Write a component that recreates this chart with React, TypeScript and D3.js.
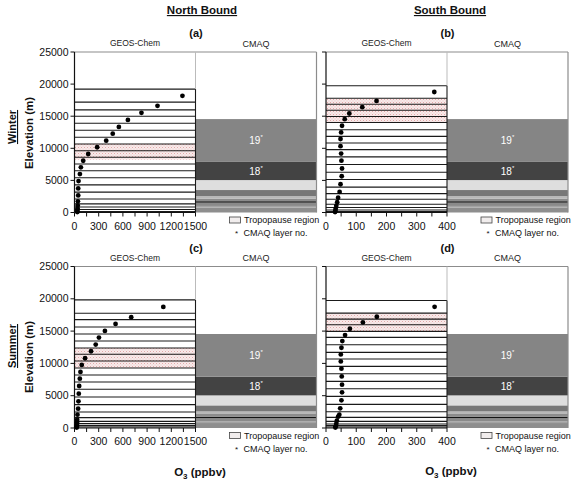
import React from "react";
import * as d3 from "d3";

// ---------- data (elevations in m, ozone in ppbv) ----------
const yTicks = [0, 5000, 10000, 15000, 20000, 25000];
const xTicksNorth = [0, 300, 600, 900, 1200, 1500];
const xTicksSouth = [0, 100, 200, 300, 400];

// (a) Winter, North Bound
const wnEdges = [0, 130, 470, 850, 1350, 2100, 3180, 4310, 5410, 6500, 7550, 8600, 9630, 10670, 11720, 12810, 13910, 15000, 15990, 17190, 19220];
const wnAlt = [65, 300, 660, 1100, 1740, 2660, 3750, 4890, 5980, 7030, 8060, 9110, 10160, 11190, 12280, 13330, 14420, 15520, 16610, 18170];
const wnO3 = [35, 36, 38, 40, 42, 46, 46, 50, 67, 79, 108, 170, 281, 393, 474, 550, 662, 830, 1029, 1338];
const wnTropo = [8250, 10700];

// (b) Winter, South Bound
const wsEdges = [0, 150, 400, 775, 1285, 2060, 2940, 3960, 5150, 6280, 7470, 8660, 9790, 10830, 11860, 12890, 14030, 14955, 15935, 16865, 17790, 19750];
const wsAlt = [80, 280, 600, 1040, 1600, 2300, 3200, 4400, 5650, 6850, 8080, 9180, 10330, 11450, 12480, 13510, 14540, 15420, 16400, 17380, 18770];
const wsO3 = [30, 31, 32, 34, 37, 40, 45, 48, 52, 53, 51, 50, 48, 48, 50, 53, 62, 77, 120, 167, 358];
const wsTropo = [14030, 17790];

// (c) Summer, North Bound
const snEdges = [0, 155, 361, 671, 1033, 1600, 2478, 3614, 4802, 5989, 7125, 8209, 9293, 10378, 11410, 12391, 13475, 14560, 15644, 16780, 17761, 19826];
const snAlt = [80, 260, 520, 850, 1291, 2065, 2995, 4130, 5318, 6505, 7641, 8674, 9759, 10797, 11881, 12919, 14003, 15026, 16110, 17147, 18743];
const snO3 = [28, 29, 30, 31, 33, 37, 45, 49, 53, 58, 66, 74, 90, 131, 205, 263, 303, 377, 509, 703, 1101];
const snTropo = [9293, 12391];

// (d) Summer, South Bound
const ssEdges = [0, 155, 361, 619, 1031, 1650, 2526, 3660, 4897, 6083, 7217, 8403, 9537, 10671, 11702, 12888, 14022, 14950, 15981, 16857, 17785, 19744];
const ssAlt = [80, 260, 670, 1134, 1750, 2062, 3041, 4279, 5516, 6702, 7990, 9176, 10310, 11393, 12424, 13455, 14383, 15362, 16342, 17218, 18764];
const ssO3 = [31, 32, 34, 36, 40, 44, 47, 51, 53, 53, 52, 51, 49, 49, 51, 54, 63, 79, 122, 168, 359];
const ssTropo = [14950, 17785];

// CMAQ layers (shared), bottom-up boundaries
const cmaqEdges = [0, 770, 1020, 1530, 1760, 2170, 2570, 3500, 5050, 7950, 14550];
const cmaqShades = ["#8e8e8e", "#a3a3a3", "#8a8a8a", "#141414", "#8c8c8c", "#b8b8b8", "#777777", "#dedede", "#434343", "#858585"];
const cmaqLabels = ["", "", "", "", "", "", "", "", "18", "19"];

const FONT = "'Liberation Sans', Arial, sans-serif";

type PanelProps = {
  letter: string;
  x0: number;
  yTop: number;
  yBot: number;
  xMax: number;
  xTicks: number[];
  minorStep: number;
  edges: number[];
  alt: number[];
  o3: number[];
  tropo: number[];
  showYLabels: boolean;
};

const GW = 121;

function Panel(p: PanelProps) {
  const y = d3.scaleLinear().domain([0, 25000]).range([p.yBot, p.yTop]);
  const x = d3.scaleLinear().domain([0, p.xMax]).range([p.x0, p.x0 + GW]);
  const xDiv = p.x0 + GW;
  const xR = xDiv + GW;
  const minor = d3.range(0, p.xMax + 0.001, p.minorStep);
  const boxTop = p.edges[p.edges.length - 1];
  return (
    <g>
      <rect x={p.x0} y={p.yTop} width={GW * 2} height={p.yBot - p.yTop} fill="#fff" />
      {/* CMAQ layers */}
      {cmaqShades.map((c, i) => (
        <rect key={"c" + i} x={xDiv} width={GW} y={y(cmaqEdges[i + 1])} height={y(cmaqEdges[i]) - y(cmaqEdges[i + 1])} fill={c} />
      ))}
      {cmaqLabels.map((l, i) =>
        l ? (
          <text key={"l" + i} x={xDiv + GW / 2} y={(y(cmaqEdges[i]) + y(cmaqEdges[i + 1])) / 2 + 4} fill="#fff" fontSize={10} fontFamily={FONT} textAnchor="middle">
            {l}
            <tspan fontSize={6} dy={-5}>*</tspan>
          </text>
        ) : null
      )}
      {/* Tropopause region */}
      <rect x={p.x0} width={GW} y={y(p.tropo[1])} height={y(p.tropo[0]) - y(p.tropo[1])} fill="url(#tropoPat)" />
      {/* GEOS-Chem layers */}
      {p.edges.slice(1).map((e, i) => (
        <line key={"e" + i} x1={p.x0} x2={xDiv} y1={y(e)} y2={y(e)} stroke="#1a1a1a" strokeWidth={1.1} />
      ))}
      {/* frame */}
      <line x1={p.x0} x2={xR} y1={p.yTop} y2={p.yTop} stroke="#8c8c8c" strokeWidth={1.2} />
      <line x1={xR} x2={xR} y1={p.yTop} y2={p.yBot} stroke="#8c8c8c" strokeWidth={1.2} />
      <line x1={xDiv} x2={xDiv} y1={p.yTop} y2={y(boxTop)} stroke="#bbbbbb" strokeWidth={1} />
      <line x1={xDiv} x2={xDiv} y1={y(boxTop)} y2={p.yBot} stroke="#1a1a1a" strokeWidth={1.1} />
      {/* axes */}
      <line x1={p.x0} x2={p.x0} y1={p.yTop} y2={p.yBot} stroke="#111" strokeWidth={1.2} />
      <line x1={p.x0} x2={xDiv} y1={p.yBot} y2={p.yBot} stroke="#111" strokeWidth={1.2} />
      {yTicks.map((t) => (
        <g key={"yt" + t}>
          <line x1={p.x0 - 4} x2={p.x0} y1={y(t)} y2={y(t)} stroke="#111" />
          {p.showYLabels && (
            <text x={p.x0 - 6} y={y(t) + 3.6} fontSize={10.5} fontFamily={FONT} textAnchor="end" fill="#111">
              {t}
            </text>
          )}
        </g>
      ))}
      {minor.map((t) => (
        <line key={"xm" + t} x1={x(t)} x2={x(t)} y1={p.yBot} y2={p.yBot + 4} stroke="#111" />
      ))}
      {p.xTicks.map((t) => (
        <text key={"xt" + t} x={x(t)} y={p.yBot + 17} fontSize={10.5} fontFamily={FONT} textAnchor="middle" fill="#111">
          {t}
        </text>
      ))}
      {/* O3 profile */}
      {p.alt.map((a, i) => (
        <circle key={"d" + i} cx={x(p.o3[i])} cy={y(a)} r={2.4} fill="#000" />
      ))}
      {/* headers */}
      <text x={p.x0 + GW / 2} y={p.yTop - 6} fontSize={8.5} fontFamily={FONT} textAnchor="middle" fill="#222">GEOS-Chem</text>
      <text x={xDiv + GW / 2} y={p.yTop - 5.5} fontSize={9} fontFamily={FONT} textAnchor="middle" fill="#222">CMAQ</text>
      <text x={xDiv + 0.5} y={p.yTop - 15} fontSize={11} fontWeight="bold" fontFamily={FONT} textAnchor="middle" fill="#111">({p.letter})</text>
      {/* legend */}
      <rect x={xDiv + 34} y={p.yBot + 4.5} width={11} height={6} fill="#f1eded" stroke="#444" strokeWidth={0.8} />
      <text x={xDiv + 48.5} y={p.yBot + 10.8} fontSize={9} fontFamily={FONT} fill="#111">Tropopause region</text>
      <text x={xDiv + 41} y={p.yBot + 23.5} fontSize={8} fontFamily={FONT} fill="#111" textAnchor="middle">*</text>
      <text x={xDiv + 48} y={p.yBot + 23.5} fontSize={9} fontFamily={FONT} fill="#111">CMAQ layer no.</text>
    </g>
  );
}

export default function App() {
  const rows = [
    { yTop: 52, yBot: 212.5 },
    { yTop: 266.5, yBot: 428 },
  ];
  const cols = [74.5, 326];
  return (
    <svg width={574} height={484} style={{ position: "absolute", left: 0, top: 0 }}>
      <defs>
        <pattern id="tropoPat" width="3" height="3" patternUnits="userSpaceOnUse">
          <rect width="3" height="3" fill="#f8ebeb" />
          <rect x="0" y="0" width="1" height="1" fill="#e3a9a9" />
          <rect x="1.5" y="1.5" width="1" height="1" fill="#ecc3c3" />
        </pattern>
      </defs>
      <rect width={574} height={484} fill="#fff" />
      <text x={202} y={14} fontSize={11.5} fontWeight="bold" fontFamily={FONT} textAnchor="middle" textDecoration="underline" fill="#111">North Bound</text>
      <text x={450} y={14} fontSize={11.5} fontWeight="bold" fontFamily={FONT} textAnchor="middle" textDecoration="underline" fill="#111">South Bound</text>

      <Panel letter="a" x0={cols[0]} {...rows[0]} xMax={1500} xTicks={xTicksNorth} minorStep={150} edges={wnEdges} alt={wnAlt} o3={wnO3} tropo={wnTropo} showYLabels={true} />
      <Panel letter="b" x0={cols[1]} {...rows[0]} xMax={400} xTicks={xTicksSouth} minorStep={50} edges={wsEdges} alt={wsAlt} o3={wsO3} tropo={wsTropo} showYLabels={false} />
      <Panel letter="c" x0={cols[0]} {...rows[1]} xMax={1500} xTicks={xTicksNorth} minorStep={150} edges={snEdges} alt={snAlt} o3={snO3} tropo={snTropo} showYLabels={true} />
      <Panel letter="d" x0={cols[1]} {...rows[1]} xMax={400} xTicks={xTicksSouth} minorStep={50} edges={ssEdges} alt={ssAlt} o3={ssO3} tropo={ssTropo} showYLabels={false} />

      <text transform="translate(16,127) rotate(-90)" fontSize={11} fontWeight="bold" fontFamily={FONT} textAnchor="middle" textDecoration="underline" fill="#111">Winter</text>
      <text transform="translate(33,133) rotate(-90)" fontSize={11.5} fontWeight="bold" fontFamily={FONT} textAnchor="middle" fill="#111">Elevation (m)</text>
      <text transform="translate(16,346) rotate(-90)" fontSize={11} fontWeight="bold" fontFamily={FONT} textAnchor="middle" textDecoration="underline" fill="#111">Summer</text>
      <text transform="translate(33,357) rotate(-90)" fontSize={11.5} fontWeight="bold" fontFamily={FONT} textAnchor="middle" fill="#111">Elevation (m)</text>

      <text x={200} y={476} fontSize={11.5} fontWeight="bold" fontFamily={FONT} textAnchor="middle" fill="#111">
        O<tspan fontSize={8} dy={3}>3</tspan><tspan dy={-3}> (ppbv)</tspan>
      </text>
      <text x={451} y={475} fontSize={11.5} fontWeight="bold" fontFamily={FONT} textAnchor="middle" fill="#111">
        O<tspan fontSize={8} dy={3}>3</tspan><tspan dy={-3}> (ppbv)</tspan>
      </text>
    </svg>
  );
}
